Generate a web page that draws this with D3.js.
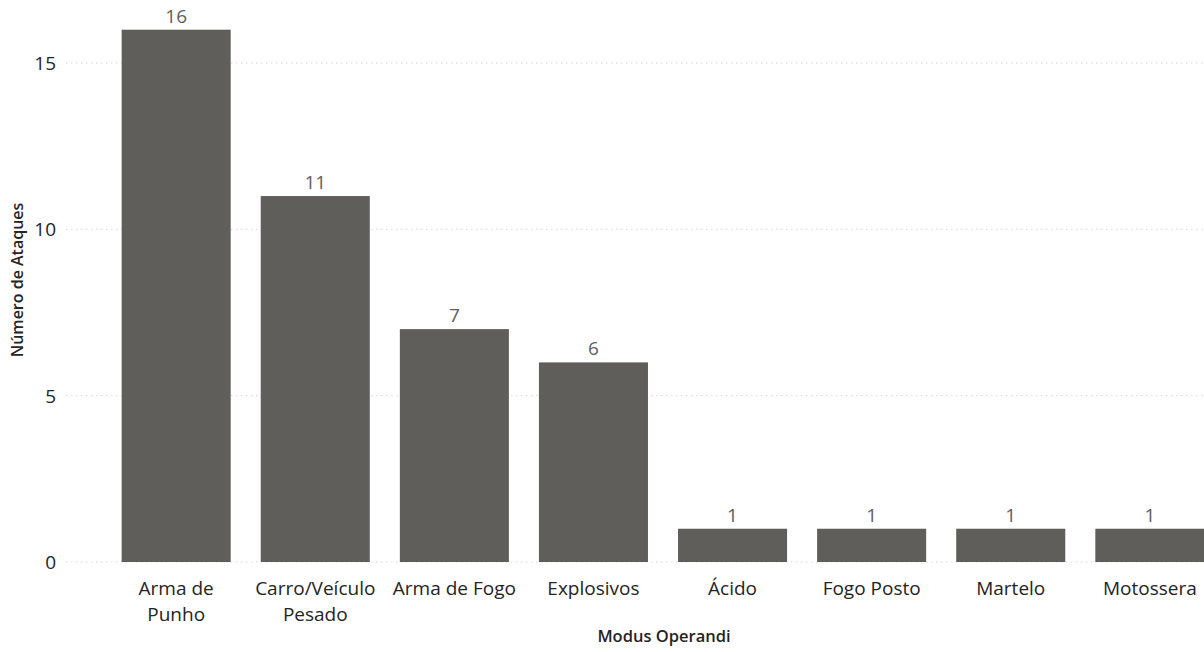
<!DOCTYPE html>
<html>
<head>
<meta charset="utf-8">
<script src="https://cdn.jsdelivr.net/npm/d3@7"></script>
<style>
  html, body { margin: 0; padding: 0; background: #fff; }
  svg { display: block; font-family: "Open Sans", "Noto Sans", sans-serif; }
</style>
</head>
<body>
<svg id="chart" width="1204" height="652"></svg>
<script>
// Ataques por modus operandi
const categories = [
  ["Arma de", "Punho"],
  ["Carro/Veículo", "Pesado"],
  ["Arma de Fogo"],
  ["Explosivos"],
  ["Ácido"],
  ["Fogo Posto"],
  ["Martelo"],
  ["Motossera"]
];
const values = [16, 11, 7, 6, 1, 1, 1, 1];
const yTicks = [0, 5, 10, 15];
const xTitle = "Modus Operandi";
const yTitle = "Número de Ataques";

const svg = d3.select("#chart");
const keys = categories.map(c => c.join(" "));

const x = d3.scaleBand()
  .domain(keys)
  .range([66, 1260])
  .paddingInner(0.216)
  .paddingOuter(0.4);

const y = d3.scaleLinear()
  .domain([0, 16])
  .range([562, 29.7]);

// dotted horizontal gridlines
svg.append("g")
  .selectAll("line")
  .data(yTicks)
  .join("line")
  .attr("x1", 66)
  .attr("x2", 1204)
  .attr("y1", d => y(d))
  .attr("y2", d => y(d))
  .attr("stroke", "#d6d6d6")
  .attr("stroke-width", 1)
  .attr("stroke-dasharray", "1.5,3.5");

// y tick labels
const yAxis = d3.axisLeft(y).tickValues(yTicks).tickSize(0).tickPadding(0);
const gy = svg.append("g").attr("transform", "translate(56,0)").call(yAxis);
gy.select(".domain").remove();
gy.selectAll("text")
  .attr("fill", "#252423")
  .style("font-size", "19px")
  .style("font-family", "'Open Sans', sans-serif")
  .attr("dy", "0.35em");

// bars
svg.append("g")
  .selectAll("rect")
  .data(values)
  .join("rect")
  .attr("x", (d, i) => x(keys[i]))
  .attr("y", d => y(d))
  .attr("width", x.bandwidth())
  .attr("height", d => y(0) - y(d))
  .attr("fill", "#5f5e5b");

// value labels
svg.append("g")
  .selectAll("text")
  .data(values)
  .join("text")
  .attr("x", (d, i) => x(keys[i]) + x.bandwidth() / 2)
  .attr("y", d => y(d) - 7)
  .attr("text-anchor", "middle")
  .attr("fill", "#605e5c")
  .style("font-size", "19px")
  .text(d => d);

// category labels (wrapped onto lines)
const xAxis = d3.axisBottom(x).tickSize(0).tickPadding(0).tickFormat(() => "");
const gx = svg.append("g").attr("transform", "translate(0,562)").call(xAxis);
gx.select(".domain").remove();
gx.selectAll(".tick text").remove();
gx.selectAll(".tick").each(function (k, i) {
  const t = d3.select(this).append("text")
    .attr("text-anchor", "middle")
    .attr("fill", "#252423")
    .style("font-size", "19px")
    .style("font-family", "'Open Sans', sans-serif");
  categories[i].forEach((line, j) => {
    t.append("tspan").attr("x", 0).attr("y", 33 + j * 26).text(line);
  });
});

// axis titles
svg.append("text")
  .attr("x", 664)
  .attr("y", 642)
  .attr("text-anchor", "middle")
  .attr("fill", "#252423")
  .style("font-size", "16.5px")
  .style("font-weight", 600)
  .text(xTitle);

svg.append("text")
  .attr("transform", "translate(23,280) rotate(-90)")
  .attr("text-anchor", "middle")
  .attr("fill", "#252423")
  .style("font-size", "16px")
  .style("font-weight", 600)
  .text(yTitle);
</script>
</body>
</html>
